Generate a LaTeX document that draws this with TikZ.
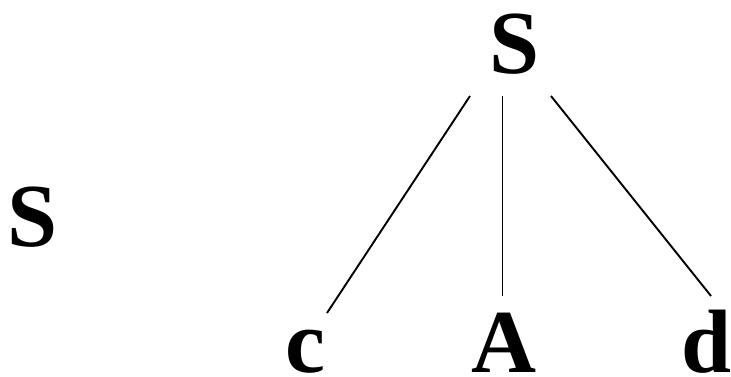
\documentclass[tikz,border=0pt]{standalone}
\usepackage{fontspec}
\setmainfont{Liberation Serif}
\begin{document}
\begin{tikzpicture}[x=1pt,y=1pt,
  sym/.style={font=\fontsize{90}{90}\selectfont\bfseries, inner sep=0pt, anchor=base},
  edge/.style={line width=1.9pt}]
\useasboundingbox (0,0) rectangle (731,376);
\node[sym] (top) at (514.5,303) {S};
\node[sym] (left) at (33,130) {S};
\node[sym] (c) at (305,4) {c};
\node[sym] (A) at (503.5,4) {A};
\node[sym] (d) at (707,4) {d};
\coordinate (t1) at (470,280);
\coordinate (t2) at (502.5,280);
\coordinate (t3) at (551,280);
\coordinate (b1) at (327,63);
\coordinate (b2) at (502.5,80);
\coordinate (b3) at (711,80);
\draw[edge] (t1) -- (b1);
\draw[edge] (t2) -- (b2);
\draw[edge] (t3) -- (b3);
\end{tikzpicture}
\end{document}
